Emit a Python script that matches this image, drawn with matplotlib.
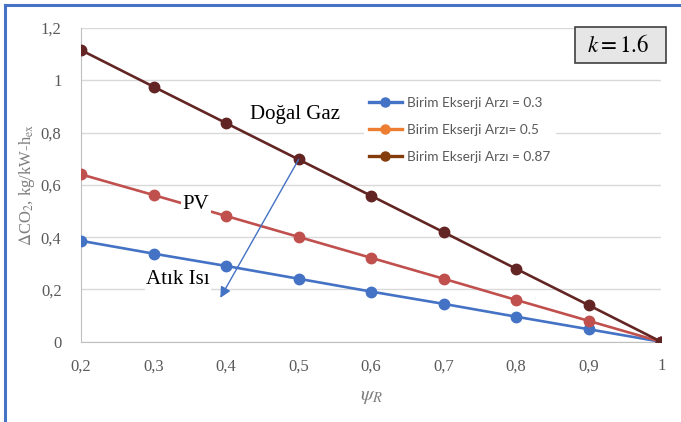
#!/usr/bin/env python3
"""
Delta CO2 vs psi_R for three unit exergy supply values (k = 1.6).
"""
import matplotlib
matplotlib.use('Agg')
import matplotlib.pyplot as plt
from matplotlib.lines import Line2D
from matplotlib.patches import Rectangle

# Data
psi_r = [0.2, 0.3, 0.4, 0.5, 0.6, 0.7, 0.8, 0.9, 1.0]
atik_isi = [0.386, 0.337, 0.290, 0.241, 0.192, 0.145, 0.096, 0.048, 0.0]   # Birim Ekserji Arzı = 0.3
pv = [0.640, 0.561, 0.481, 0.401, 0.321, 0.241, 0.160, 0.080, 0.0]         # Birim Ekserji Arzı = 0.5
dogal_gaz = [1.115, 0.975, 0.836, 0.697, 0.558, 0.419, 0.279, 0.140, 0.0]  # Birim Ekserji Arzı = 0.87

legend_labels = ['Birim Ekserji Arzı = 0.3', 'Birim Ekserji Arzı= 0.5', 'Birim Ekserji Arzı = 0.87']
y_ticks = [0, 0.2, 0.4, 0.6, 0.8, 1.0, 1.2]
y_tick_labels = ['0', '0,2', '0,4', '0,6', '0,8', '1', '1,2']
x_ticks = psi_r
x_tick_labels = ['0,2', '0,3', '0,4', '0,5', '0,6', '0,7', '0,8', '0,9', '1']

# Colors (the plotted lines and the legend swatches differ in the original)
LINE_COLORS = ['#4472C4', '#C0504D', '#632523']
LEGEND_COLORS = ['#4472C4', '#ED7D31', '#843C0C']
GRAY = '#595959'
SERIF = 'Liberation Serif'

plt.rcParams['mathtext.fontset'] = 'stix'

fig = plt.figure(figsize=(6.81, 4.22), dpi=100)
ax = fig.add_axes([0.119, 0.19, 0.852, 0.744])

for vals, col in zip([atik_isi, pv, dogal_gaz], LINE_COLORS):
    ax.plot(psi_r, vals, color=col, lw=1.9, marker='o', markersize=7.5, zorder=3)

ax.set_xlim(0.2, 1.0)
ax.set_ylim(0, 1.2)
ax.set_yticks(y_ticks)
ax.set_yticklabels(y_tick_labels, family=SERIF, fontsize=12, color=GRAY)
ax.set_xticks(x_ticks)
ax.set_xticklabels(x_tick_labels, family=SERIF, fontsize=12, color=GRAY)
ax.tick_params(axis='x', length=0, pad=12)
ax.tick_params(axis='y', length=0, pad=14)

ax.grid(axis='y', color='#D9D9D9', lw=1)
ax.set_axisbelow(True)
for s in ['top', 'right']:
    ax.spines[s].set_visible(False)
for s in ['left', 'bottom']:
    ax.spines[s].set_color('#BFBFBF')

ax.set_xlabel(r'$\psi_R$', fontsize=15, color='#7F7F7F', labelpad=8)
ax.set_ylabel(r'$\Delta$CO$_2$, kg/kW-h$_{\mathrm{ex}}$', family=SERIF, fontsize=12,
              color='#7F7F7F', labelpad=3)

# Series annotations
box = dict(facecolor='white', edgecolor='none', pad=1)
ax.text(0.557, 0.87, 'Doğal Gaz', family=SERIF, fontsize=15, ha='right', va='center',
        bbox=box, zorder=4)
ax.text(0.34, 0.523, 'PV', family=SERIF, fontsize=15, ha='left', va='center',
        bbox=box, zorder=4)
ax.text(0.29, 0.237, 'Atık Isı', family=SERIF, fontsize=15, ha='left', va='center',
        bbox=box, zorder=4)
ax.annotate('', xy=(0.392, 0.168), xytext=(0.5, 0.697),
            arrowprops=dict(arrowstyle='-|>', color='#4472C4', lw=1,
                            mutation_scale=16, shrinkA=0, shrinkB=0), zorder=5)

# Legend with its own swatches
handles = [Line2D([0], [0], color=c, lw=2.4, marker='o', markersize=6.5) for c in LEGEND_COLORS]
leg = fig.legend(handles, legend_labels, loc='upper left', bbox_to_anchor=(0.524, 0.8),
                 frameon=True, facecolor='white', edgecolor='none', framealpha=1,
                 handlelength=2.4, handletextpad=0.4, labelspacing=1.1,
                 prop={'family': 'Lato', 'size': 9.8})
for t in leg.get_texts():
    t.set_color(GRAY)

# k box
fig.add_artist(Rectangle((0.845, 0.851), 0.133, 0.085, transform=fig.transFigure,
                         facecolor='#E6E6E6', edgecolor='#404040', lw=1.2))
fig.text(0.907, 0.893, r'$k = 1.6$', fontsize=16.5, ha='center', va='center')

# Blue frame (top and left edges)
fig.add_artist(Line2D([0.008, 0.008], [0.0, 0.988], color='#4472C4', lw=2.2))
fig.add_artist(Line2D([0.008, 1.0], [0.988, 0.988], color='#4472C4', lw=2.2))

fig.savefig('out.png', dpi=100)
